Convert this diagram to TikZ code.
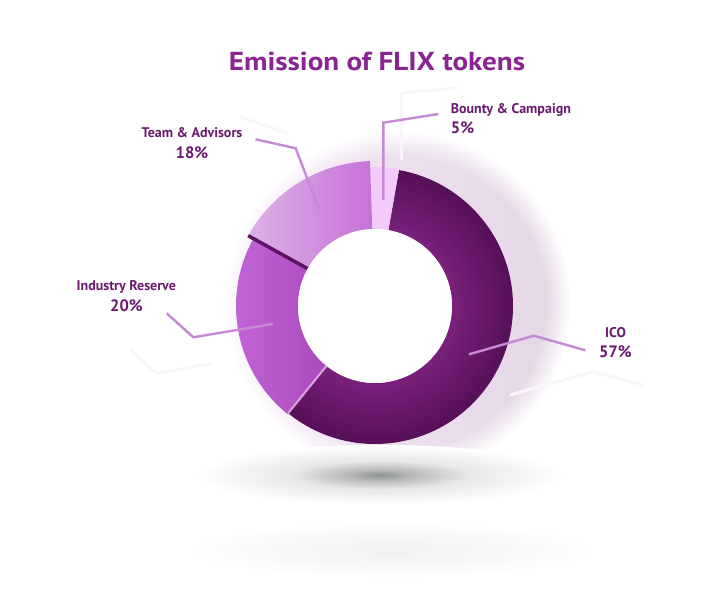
\documentclass[tikz,border=0pt]{standalone}
\usepackage{fontspec}
\setmainfont{PT Sans}
\usetikzlibrary{calc,fadings}
\definecolor{titlecol}{HTML}{8B2493}
\definecolor{labcol}{HTML}{6A1A6E}
\definecolor{leadcol}{HTML}{C68AD4}
\definecolor{icoin}{HTML}{7A207C}
\definecolor{icomid}{HTML}{6A1A6C}
\definecolor{icoout}{HTML}{560F58}
\definecolor{bountycol}{HTML}{F3CBFB}
\definecolor{teamL}{HTML}{DDB2E7}
\definecolor{teamR}{HTML}{C672D8}
\definecolor{indL}{HTML}{C468D8}
\definecolor{indR}{HTML}{AB49BD}
\definecolor{sepdark}{HTML}{5E1466}
\definecolor{seplight}{HTML}{D9A6E2}
\definecolor{ghostL}{HTML}{F6E9F8}
\definecolor{ghostR}{HTML}{E4D6E4}
\definecolor{ghostline}{HTML}{FAF5FA}
\definecolor{shA}{HTML}{8E9191}
\definecolor{shB}{HTML}{B5B7B7}
\definecolor{shC}{HTML}{E8E8E8}
\definecolor{shD}{HTML}{F1F1F1}
\definecolor{shE}{HTML}{F8F8F8}
\pgfdeclareradialshading{icoshade}{\pgfpoint{0bp}{0bp}}{color(0bp)=(icoin); color(14bp)=(icoin); color(18.5bp)=(icomid); color(25bp)=(icoout); color(50bp)=(icoout)}
\pgfdeclareradialshading{shadowshade}{\pgfpoint{0bp}{0bp}}{color(0bp)=(shA); color(4bp)=(shB); color(12bp)=(shC); color(25bp)=(white); color(50bp)=(white)}
\pgfdeclareradialshading{faintshade}{\pgfpoint{0bp}{0bp}}{color(0bp)=(shD); color(15bp)=(shE); color(25bp)=(white); color(50bp)=(white)}
\tikzset{
  lab/.style={font=\fontsize{14}{16}\selectfont\bfseries, text=labcol, inner sep=0pt},
  pct/.style={font=\fontsize{16.5}{18}\selectfont\bfseries, text=labcol, inner sep=0pt},
  titlestyle/.style={font=\fontsize{26}{30}\selectfont\bfseries, text=titlecol, inner sep=0pt},
  leader/.style={draw=leadcol, line width=2.4pt, line join=miter},
  ghostleader/.style={draw=ghostline, line width=3pt},
}
\begin{document}
\begin{tikzpicture}[x=1pt,y=1pt]
\useasboundingbox (0,0) rectangle (725,593);
\fill[white] (0,0) rectangle (725,593);

% ghost ring behind the donut
\begin{scope}
  \clip (0,141) rectangle (725,465);
  \shade[left color=ghostL, right color=ghostR, path fading=circle with fuzzy edge 15 percent] (398,290) circle (172);
\end{scope}

% faint reflected leader lines
\draw[ghostleader] (401.7,500) -- (401.7,433) (401.7,500) -- (456.7,505);
\draw[ghostleader] (240,476) -- (287,460);
\draw[ghostleader] (130,243) -- (156.7,219.7) -- (213,230);
\draw[ghostleader] (510,198) -- (593,221.3) -- (643,208);

% shadows below
\shade[shading=shadowshade] (380,118) ellipse (185 and 30);
\shade[shading=faintshade] (392,43) ellipse (205 and 28);

% donut
\coordinate (C) at (375,287);
\begin{scope}
  \clip ([shift={(-129:138)}]C) arc[start angle=-129,end angle=80,radius=138]
     -- ([shift={(80:77)}]C) arc[start angle=80,end angle=-129,radius=77] -- cycle;
  \shade[shading=icoshade] (C) circle (138);
\end{scope}
\fill[bountycol] ([shift={(80:139)}]C) arc[start angle=80,end angle=92,radius=139]
     -- ([shift={(92:77)}]C) arc[start angle=92,end angle=80,radius=77] -- cycle;
\shade[left color=teamL, right color=teamR] ([shift={(92:145)}]C) arc[start angle=92,end angle=151,radius=145]
     -- ([shift={(151:77)}]C) arc[start angle=151,end angle=92,radius=77] -- cycle;
\shade[left color=indL, right color=indR] ([shift={(151:139)}]C) arc[start angle=151,end angle=231,radius=139]
     -- ([shift={(231:77)}]C) arc[start angle=231,end angle=151,radius=77] -- cycle;
\draw[seplight, line width=2pt] ([shift={(231:77)}]C) -- ([shift={(231:138)}]C);
\draw[sepdark, line width=3.5pt] ([shift={(151:77)}]C) -- ([shift={(151:145)}]C);
\fill[white] (C) circle (77);

% title
\node[titlestyle, anchor=base] (title) at (377,522.3) {\scalebox{1.12}[1]{Emission of FLIX tokens}};

% labels
\node[lab, anchor=base west] (bountyL) at (450.7,479) {Bounty \& Campaign};
\node[pct, anchor=base west] (bountyP) at (450.7,459) {5\%};
\node[lab, anchor=base] (teamL) at (192,455.7) {Team \& Advisors};
\node[pct, anchor=base] (teamP) at (192,434.7) {18\%};
\node[lab, anchor=base] (indL) at (126.3,302) {Industry Reserve};
\node[pct, anchor=base] (indP) at (126.5,281.3) {20\%};
\node[lab, anchor=base] (icoL) at (615.5,255.7) {ICO};
\node[pct, anchor=base] (icoP) at (615.5,235.7) {57\%};

% leader points
\coordinate (bountyEnd) at (383.3,393);
\coordinate (bountyBend) at (383.3,470.3);
\coordinate (teamBend) at (295.7,444.7);
\coordinate (teamEnd) at (319.3,383);
\coordinate (indBend) at (193.3,255.7);
\coordinate (indEnd) at (272.7,269);
\coordinate (icoEnd) at (469,238.7);
\coordinate (icoBend) at (534,257.3);

\draw[leader] (bountyEnd) -- (bountyBend) -- ([xshift=-12.4pt]bountyL.base west);
\draw[leader] ([xshift=13pt,yshift=-2pt]teamL.base east) -- (teamBend) -- (teamEnd);
\draw[leader] ([xshift=23.7pt,yshift=-1.6pt]indP.base east) -- (indBend) -- (indEnd);
\draw[leader] (icoEnd) -- (icoBend) -- ([xshift=-13.6pt,yshift=7pt]icoP.base west);
\end{tikzpicture}
\end{document}
